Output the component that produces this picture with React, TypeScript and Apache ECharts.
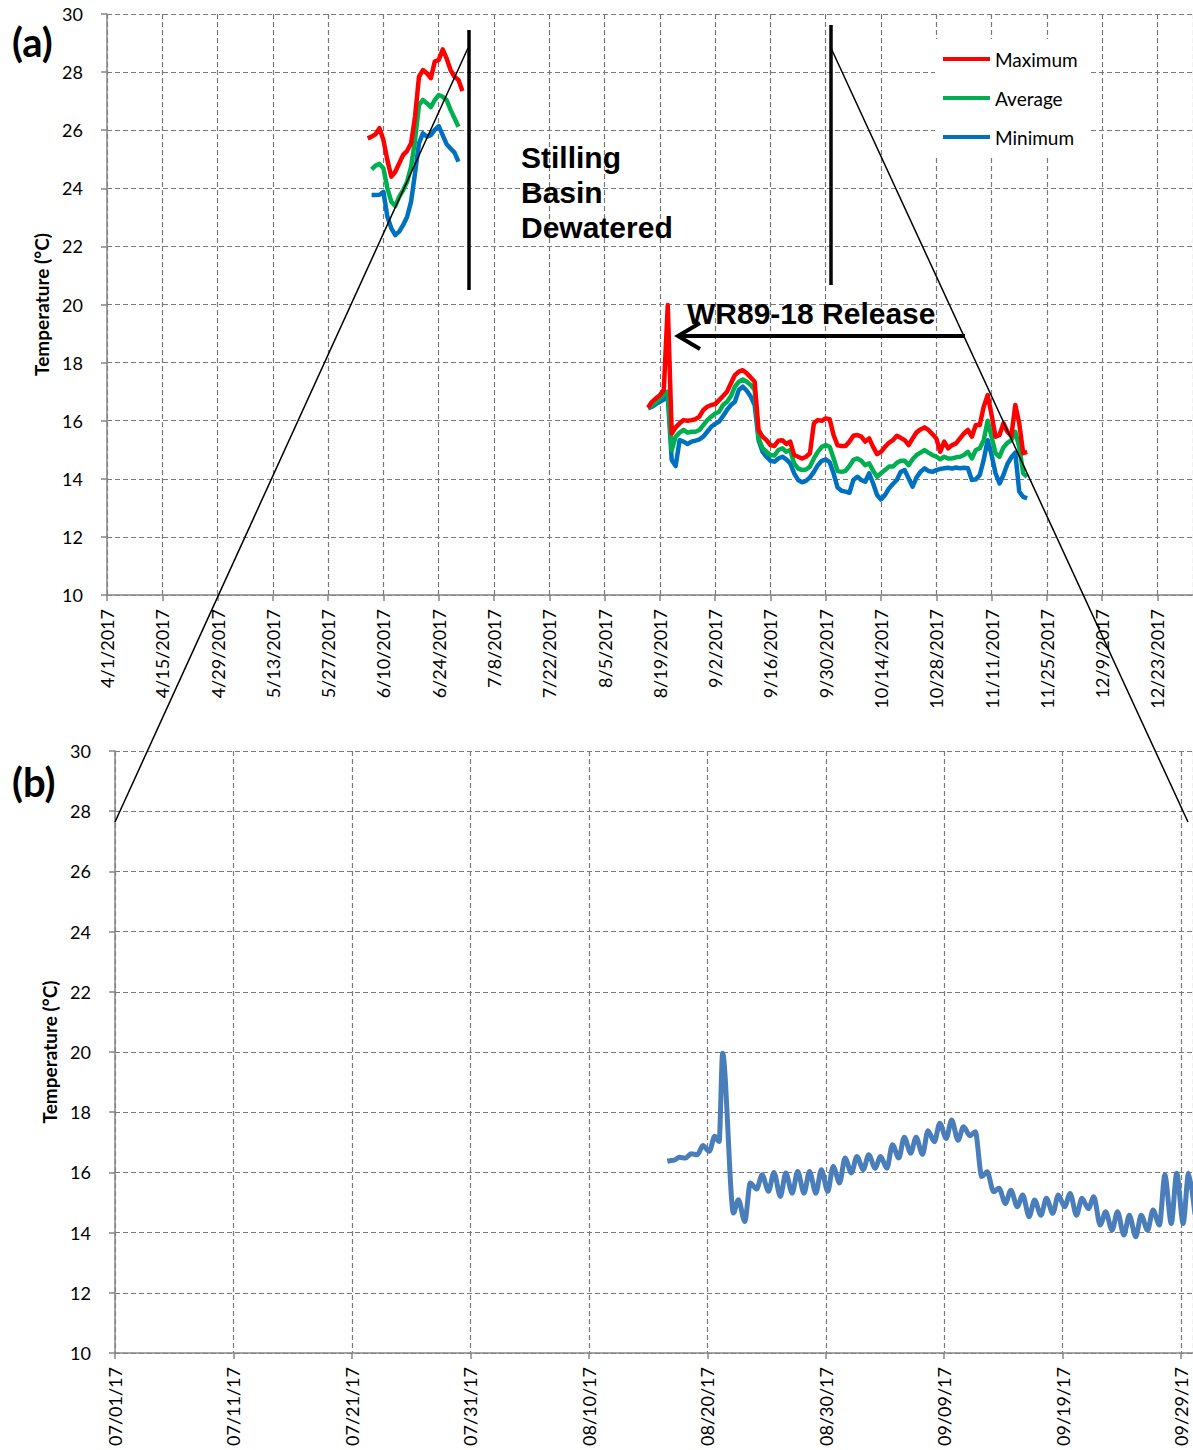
import React, { useEffect, useRef } from "react";
import * as echarts from "echarts";

const DAY = 86400000;

// Axis origins: panel (a) runs 4/1/2017 - 1/1/2018, panel (b) 7/1/2017 - 9/30/2017
const panelAStart = "2017-04-01";
const panelAEndDay = 275;
const panelATickDays = 14;
const panelBStart = "2017-07-01";
const panelBEndDay = 91;
const panelBTickDays = 10;

// Daily statistics, June deployment (°C)
const juneMaxStart = "2017-06-06";
const juneMax = [
  25.72, 25.78, 25.86, 26.07, 25.66, 24.97, 24.4, 24.57, 24.86, 25.15, 25.29, 25.55, 26.46,
  27.84, 28.07, 27.96, 27.79, 28.36, 28.42, 28.78, 28.47, 28.07, 27.84, 27.73, 27.35,
];
const juneAvgMinStart = "2017-06-07";
const juneAvg = [
  24.65, 24.78, 24.84, 24.69, 24.0, 23.54, 23.39, 23.71, 23.94, 24.23, 24.74, 25.66, 26.87,
  27.04, 26.93, 26.79, 27.04, 27.21, 27.15, 27.04, 26.7, 26.41, 26.12,
];
const juneMin = [
  23.77, 23.77, 23.78, 23.88, 23.02, 22.62, 22.39, 22.51, 22.74, 23.02, 23.54, 24.52, 25.55,
  25.89, 25.78, 25.83, 26.01, 26.14, 25.83, 25.52, 25.37, 25.23, 24.92,
];

// Daily statistics, 8/16/2017 - 11/20/2017 (°C)
const fallStart = "2017-08-16";
const fallMax = [
  16.45, 16.65, 16.77, 16.88, 17.06, 19.98, 15.56, 15.77, 15.91, 16.02,
  16.0, 16.02, 16.05, 16.14, 16.37, 16.48, 16.54, 16.57, 16.71, 16.85,
  17.0, 17.29, 17.57, 17.69, 17.74, 17.63, 17.49, 17.34, 15.68, 15.45,
  15.33, 15.16, 15.13, 15.31, 15.33, 15.2, 15.28, 14.82, 14.76, 14.7,
  14.76, 14.88, 15.91, 16.02, 16.0, 16.08, 16.05, 15.5, 15.15, 15.13,
  15.13, 15.28, 15.48, 15.51, 15.45, 15.28, 15.39, 15.1, 14.85, 14.93,
  15.1, 15.24, 15.33, 15.48, 15.41, 15.33, 15.16, 15.39, 15.6, 15.7,
  15.77, 15.68, 15.54, 15.39, 14.93, 15.28, 15.05, 15.16, 15.22, 15.39,
  15.56, 15.68, 15.45, 15.85, 15.85, 16.48, 16.88, 16.2, 15.45, 15.51,
  15.91, 15.62, 15.47, 16.54, 15.91, 14.88, 14.93,
];
const fallAvg = [
  16.45, 16.54, 16.65, 16.77, 16.88, 17.0, 14.99, 15.45, 15.59, 15.68,
  15.59, 15.62, 15.62, 15.68, 15.85, 16.02, 16.14, 16.25, 16.31, 16.54,
  16.65, 16.85, 17.17, 17.34, 17.42, 17.34, 17.23, 17.06, 15.39, 15.05,
  14.93, 14.82, 14.8, 14.99, 15.05, 14.93, 14.99, 14.53, 14.36, 14.3,
  14.32, 14.42, 14.7, 14.93, 15.1, 15.16, 15.1, 14.7, 14.27, 14.24,
  14.27, 14.44, 14.65, 14.7, 14.62, 14.47, 14.53, 14.28, 14.07, 14.19,
  14.3, 14.42, 14.42, 14.55, 14.62, 14.62, 14.47, 14.67, 14.82, 14.9,
  14.99, 14.9, 14.82, 14.76, 14.67, 14.76, 14.7, 14.7, 14.74, 14.76,
  14.82, 14.93, 14.7, 14.99, 15.05, 15.33, 16.0, 15.45, 14.88, 14.76,
  15.08, 15.24, 15.33, 15.62, 15.1, 14.19, 14.07,
];
const fallMin = [
  16.42, 16.48, 16.57, 16.65, 16.73, 16.83, 14.65, 14.44, 15.33, 15.28,
  15.2, 15.28, 15.31, 15.36, 15.45, 15.62, 15.79, 15.89, 15.97, 16.16,
  16.37, 16.54, 16.65, 17.06, 17.17, 17.03, 16.83, 16.54, 15.33, 14.93,
  14.76, 14.62, 14.59, 14.7, 14.76, 14.67, 14.53, 14.19, 13.96, 13.88,
  13.93, 14.05, 14.24, 14.47, 14.62, 14.67, 14.57, 14.18, 13.7, 13.59,
  13.56, 13.52, 13.96, 14.07, 13.96, 13.9, 14.19, 13.84, 13.44, 13.29,
  13.44, 13.67, 13.82, 13.96, 14.24, 14.3, 14.01, 13.73, 14.05, 14.24,
  14.36, 14.27, 14.24, 14.3, 14.34, 14.36, 14.38, 14.35, 14.39, 14.36,
  14.38, 14.36, 13.96, 13.98, 14.13, 14.65, 15.33, 14.82, 14.19, 13.84,
  14.13, 14.51, 14.74, 14.9, 13.56, 13.38, 13.33,
];

// Panel (b): logger record, daily low (early morning) and high (afternoon), 8/16 - 9/30
const loggerStart = "2017-08-16";
const loggerLowHour = [
  4, 4, 4, 4, 4, 0, 5, 4, 4, 4, 4, 4, 4, 4, 4, 4, 4, 4, 4, 4, 4, 4, 4, 4, 4, 4, 4,
  4, 4, 4, 4, 4, 4, 4, 4, 4, 4, 4, 4, 4, 4, 4, 4, 4, 4, 4,
];
const loggerHighHour = [
  15, 15, 15, 15, 15, 7, 15, 15, 15, 15, 15, 15, 15, 15, 15, 15, 15, 15, 15, 15, 15, 15, 15,
  15, 15, 15, 15, 15, 15, 15, 15, 15, 15, 15, 15, 15, 15, 15, 15, 15, 15, 15, 15, 15, 15, 15,
];
const loggerLow = [
  null, 16.4, 16.48, 16.59, 16.7, 17.03, 14.65, 14.37, 15.45, 15.37, 15.2, 15.31, 15.31, 15.31,
  15.37, 15.65, 15.98, 16.09, 16.14, 16.14, 16.48, 16.64, 16.6, 17.02, 17.13, 17.07, 17.22,
  15.86, 15.36, 14.97, 14.86, 14.53, 14.58, 14.64, 14.86, 14.58, 14.8, 14.25, 14.08, 13.92,
  13.86, 14.08, 14.25, 14.3, 14.3, 14.6,
];
const loggerHigh = [
  16.37, 16.5, 16.62, 16.89, 17.2, 19.96, 15.09, 15.65, 15.92, 16.0, 15.98, 16.03, 16.03, 16.09,
  16.2, 16.48, 16.53, 16.59, 16.53, 16.92, 17.17, 17.17, 17.38, 17.63, 17.74, 17.52, 17.35,
  16.02, 15.47, 15.41, 15.25, 15.08, 15.14, 15.25, 15.3, 15.14, 15.19, 14.69, 14.69, 14.58,
  14.58, 14.75, 15.91, 15.97, 15.97, null,
];

const tempMin = 10;
const tempMax = 30;
const tempStep = 2;

const seriesNames = ["Maximum", "Average", "Minimum"];
const seriesColors = ["#ff0000", "#00b050", "#0070c0"];

const utc = (iso: string) => Date.parse(iso + "T00:00:00Z");
const dayOf = (iso: string, origin: string) => (utc(iso) - utc(origin)) / DAY;
const pad2 = (n: number) => (n < 10 ? "0" + n : String(n));

function dailyPoints(parts: { start: string; values: number[] }[]) {
  const out: any[] = [];
  parts.forEach((p, k) => {
    const d0 = dayOf(p.start, panelAStart);
    if (k > 0) out.push([d0 - 1, "-"]);
    p.values.forEach((v, i) => out.push([d0 + i, v]));
  });
  return out;
}

// Interleave each day's low and high at their times of day
function loggerPoints() {
  const out: any[] = [];
  const d0 = dayOf(loggerStart, panelBStart);
  loggerLow.forEach((lo, i) => {
    const pts: [number, number][] = [];
    if (lo != null) pts.push([d0 + i + loggerLowHour[i] / 24, lo]);
    const hi = loggerHigh[i];
    if (hi != null) pts.push([d0 + i + loggerHighHour[i] / 24, hi]);
    pts.sort((a, b) => a[0] - b[0]).forEach((p) => out.push(p));
  });
  return out;
}

const FONT = "Lato";
const gridColor = "#7a7a7a";
const axisColor = "#868686";

function axisX(gridIndex: number, maxDay: number, step: number, fmt: (v: number) => string) {
  return {
    type: "value",
    gridIndex,
    min: 0,
    max: maxDay,
    interval: step,
    axisLine: { show: true, lineStyle: { color: axisColor, width: 1.5 } },
    axisTick: { show: true, length: 6, lineStyle: { color: axisColor, width: 1.5 } },
    axisLabel: {
      rotate: 90,
      margin: 14,
      showMaxLabel: false,
      fontFamily: FONT,
      fontSize: 18,
      color: "#000",
      formatter: fmt,
    },
    splitLine: { show: true, lineStyle: { color: gridColor, width: 1.2, type: [5, 3] } },
  };
}

function axisY(gridIndex: number, nameGap: number) {
  return {
    type: "value",
    gridIndex,
    min: tempMin,
    max: tempMax,
    interval: tempStep,
    name: "Temperature (°C)",
    nameLocation: "middle",
    nameRotate: 90,
    nameGap,
    nameTextStyle: { fontFamily: FONT, fontSize: 19, fontWeight: "bold", color: "#000" },
    axisLine: { show: true, lineStyle: { color: axisColor, width: 1.5 } },
    axisTick: { show: true, length: 6, lineStyle: { color: axisColor, width: 1.5 } },
    axisLabel: { margin: 24, fontFamily: FONT, fontSize: 18, color: "#000" },
    splitLine: { show: true, lineStyle: { color: gridColor, width: 1.2, type: [5, 3] } },
  };
}

export default function App() {
  const ref = useRef<HTMLDivElement>(null);

  useEffect(() => {
    if (!ref.current) return;
    const chart = echarts.init(ref.current, null, { renderer: "svg" });

    const fmtA = (v: number) => {
      const d = new Date(utc(panelAStart) + v * DAY);
      return `${d.getUTCMonth() + 1}/${d.getUTCDate()}/${d.getUTCFullYear()}`;
    };
    const fmtB = (v: number) => {
      const d = new Date(utc(panelBStart) + v * DAY);
      return `${pad2(d.getUTCMonth() + 1)}/${pad2(d.getUTCDate())}/${String(d.getUTCFullYear()).slice(2)}`;
    };

    const juneSets = [juneMax, juneAvg, juneMin];
    const fallSets = [fallMax, fallAvg, fallMin];
    const juneStarts = [juneMaxStart, juneAvgMinStart, juneAvgMinStart];

    const daily = seriesNames.map((name, i) => ({
      name,
      type: "line",
      xAxisIndex: 0,
      yAxisIndex: 0,
      symbol: "none",
      color: seriesColors[i],
      lineStyle: { width: 4.5, color: seriesColors[i], join: "round" },
      z: 5 - i,
      data: dailyPoints([
        { start: juneStarts[i], values: juneSets[i] },
        { start: fallStart, values: fallSets[i] },
      ]),
    }));

    const black = { stroke: "#000", fill: null };

    chart.setOption({
      animation: false,
      grid: [
        { left: 107, top: 14, width: 1086, height: 581 },
        { left: 115, top: 751, width: 1078.35, height: 602 },
      ],
      xAxis: [axisX(0, panelAEndDay, panelATickDays, fmtA), axisX(1, panelBEndDay, panelBTickDays, fmtB)],
      yAxis: [axisY(0, 55), axisY(1, 53)],
      legend: {
        data: seriesNames,
        orient: "vertical",
        left: 935,
        top: 39,
        icon: "rect",
        itemWidth: 47,
        itemHeight: 4,
        itemGap: 19,
        padding: [10, 12, 10, 8],
        backgroundColor: "#fff",
        selectedMode: false,
        textStyle: { fontFamily: FONT, fontSize: 19, color: "#000", lineHeight: 20 },
      },
      series: [
        ...daily,
        {
          name: "Logger",
          type: "line",
          xAxisIndex: 1,
          yAxisIndex: 1,
          symbol: "none",
          smooth: 0.3,
          smoothMonotone: "x",
          color: "#4a7ebb",
          lineStyle: { width: 5, color: "#4a7ebb", join: "round" },
          data: loggerPoints(),
        },
      ],
      graphic: [
        {
          type: "text", z: 20, left: 12, top: 22,
          style: { text: "(a)", fontFamily: FONT, fontWeight: "bold", fontSize: 40, fill: "#000" },
        },
        {
          type: "text", z: 20, left: 12, top: 762,
          style: { text: "(b)", fontFamily: FONT, fontWeight: "bold", fontSize: 40, fill: "#000" },
        },
        {
          type: "text", z: 20, left: 521, top: 140,
          style: {
            text: "Stilling\nBasin\nDewatered",
            fontFamily: "Liberation Sans", fontWeight: "bold", fontSize: 30, lineHeight: 35, fill: "#000",
          },
        },
        {
          type: "text", z: 20, left: 687, top: 298,
          style: { text: "WR89-18 Release", fontFamily: "Liberation Sans", fontWeight: "bold", fontSize: 30, fill: "#000" },
        },
        { type: "line", z: 20, shape: { x1: 469, y1: 30, x2: 469, y2: 290 }, style: { ...black, lineWidth: 3.5 } },
        { type: "line", z: 20, shape: { x1: 831, y1: 25, x2: 831, y2: 285 }, style: { ...black, lineWidth: 3.5 } },
        { type: "line", z: 20, shape: { x1: 965, y1: 336, x2: 679, y2: 336 }, style: { ...black, lineWidth: 4 } },
        {
          type: "polyline", z: 20,
          shape: { points: [[700, 323], [678, 336], [700, 349]] },
          style: { ...black, lineWidth: 4, lineJoin: "miter" },
        },
        { type: "line", z: 20, shape: { x1: 468, y1: 48, x2: 115, y2: 822 }, style: { ...black, lineWidth: 1.5 } },
        { type: "line", z: 20, shape: { x1: 831, y1: 48, x2: 1188, y2: 822 }, style: { ...black, lineWidth: 1.5 } },
      ],
    });

    return () => chart.dispose();
  }, []);

  return (
    <div
      ref={ref}
      style={{ position: "absolute", left: 0, top: 0, width: 1193, height: 1450, background: "#fff" }}
    />
  );
}
